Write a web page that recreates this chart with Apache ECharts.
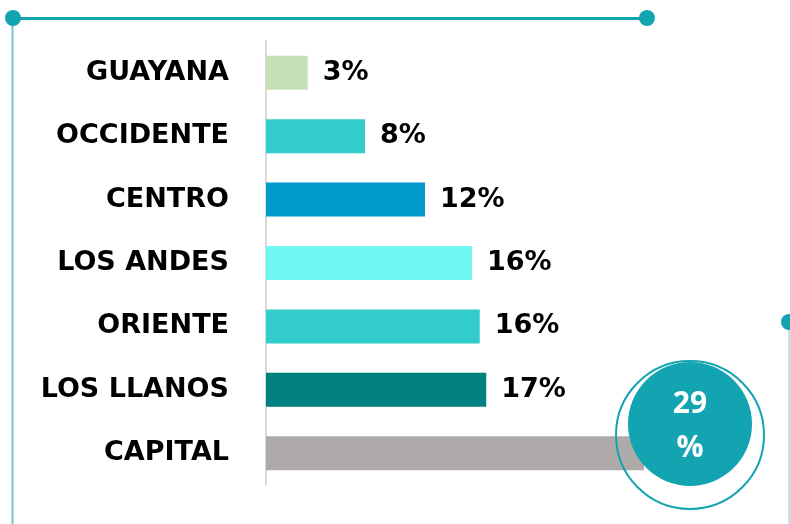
<!DOCTYPE html>
<html>
<head>
<meta charset="utf-8">
<script src="https://cdn.jsdelivr.net/npm/echarts@6/dist/echarts.min.js"></script>
<title>Regiones</title>
<style>
  html, body { margin: 0; padding: 0; background: #fff; }
  #main { width: 790px; height: 524px; }
</style>
</head>
<body>
<div id="main"></div>
<script type="text/javascript">
// regiones (de arriba hacia abajo)
var regiones = ['GUAYANA', 'OCCIDENTE', 'CENTRO', 'LOS ANDES', 'ORIENTE', 'LOS LLANOS', 'CAPITAL'];
// porcentaje estimado del largo de cada barra
var valores = [3.2, 7.6, 12.2, 15.8, 16.4, 16.9, 29];
var colores = ['#c5e0b4', '#33cccc', '#0099cc', '#70f8f2', '#33cccc', '#008080', '#aeaaaa'];
var destacado = '29';

var teal = '#12a5b1';
var fuente = 'DejaVu Sans';

var chart = echarts.init(document.getElementById('main'));

chart.setOption({
  backgroundColor: '#fff',
  animation: false,
  grid: { left: 266, top: 41, width: 391, height: 444 },
  xAxis: {
    type: 'value',
    min: 0,
    max: 30,
    show: false
  },
  yAxis: {
    type: 'category',
    inverse: true,
    data: regiones,
    axisLine: { show: true, lineStyle: { color: '#d9d9d9', width: 2 } },
    axisTick: { show: false },
    axisLabel: {
      margin: 37,
      color: '#000',
      fontFamily: fuente,
      fontWeight: 'bold',
      fontSize: 27
    }
  },
  series: [{
    type: 'bar',
    barWidth: 34,
    data: valores.map(function (v, i) {
      return {
        value: v,
        itemStyle: { color: colores[i] },
        label: { show: i < valores.length - 1 }
      };
    }),
    label: {
      position: 'right',
      distance: 15,
      color: '#000',
      fontFamily: fuente,
      fontWeight: 'bold',
      fontSize: 27,
      formatter: function (p) { return Math.round(p.value) + '%'; }
    }
  }],
  graphic: [
    // marco decorativo
    { type: 'line', shape: { x1: 12.5, y1: 18, x2: 12.5, y2: 524 }, style: { stroke: '#6cc9cf', lineWidth: 2 } },
    { type: 'line', shape: { x1: 13, y1: 18.5, x2: 647, y2: 18.5 }, style: { stroke: teal, lineWidth: 3 } },
    { type: 'circle', shape: { cx: 13, cy: 18, r: 8 }, style: { fill: teal } },
    { type: 'circle', shape: { cx: 647, cy: 18, r: 8 }, style: { fill: teal } },
    { type: 'line', shape: { x1: 789, y1: 322, x2: 789, y2: 524 }, style: { stroke: '#a8dfe3', lineWidth: 1.5 } },
    { type: 'circle', shape: { cx: 789, cy: 322, r: 8 }, style: { fill: teal } },
    // círculo destacado
    { type: 'circle', z: 10, shape: { cx: 690, cy: 435, r: 74 }, style: { fill: 'none', stroke: teal, lineWidth: 2 } },
    { type: 'circle', z: 11, shape: { cx: 690, cy: 424, r: 62 }, style: { fill: teal } },
    {
      type: 'text', z: 12, x: 690, y: 404,
      style: { text: destacado, fill: '#fff', font: 'bold 30px "Open Sans"', textAlign: 'center', textVerticalAlign: 'middle' }
    },
    {
      type: 'text', z: 12, x: 690, y: 448,
      style: { text: '%', fill: '#fff', font: 'bold 30px "Open Sans"', textAlign: 'center', textVerticalAlign: 'middle' }
    }
  ]
});
</script>
</body>
</html>
